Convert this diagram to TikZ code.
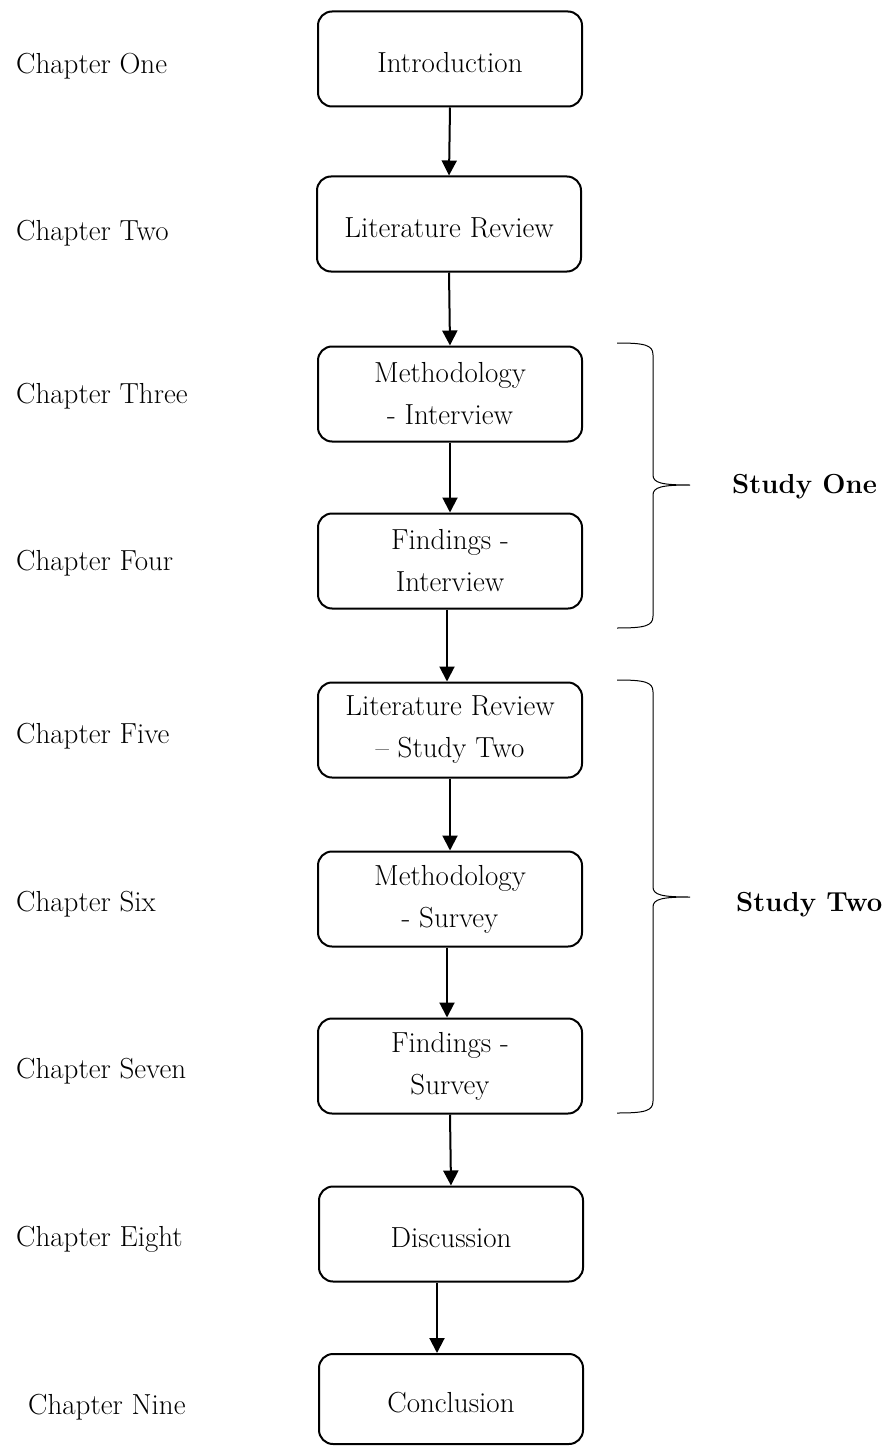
\documentclass[tikz,border=0pt]{standalone}
\usetikzlibrary{arrows.meta}
\begin{document}
\begin{tikzpicture}[x=1pt,y=-1pt,
  box/.style={draw,line width=2pt,rounded corners=14pt,minimum width=264pt,minimum height=95pt,align=center,font=\fontsize{29}{42}\selectfont,inner sep=0pt},
  txt/.style={font=\fontsize{29}{42}\selectfont,align=center,inner sep=0pt},
  chap/.style={anchor=west,font=\fontsize{29}{34}\selectfont,inner sep=0pt},
  arr/.style={line width=2pt,-{Triangle[length=15pt,width=15pt]}},
  brace/.style={line width=1pt},
  study/.style={anchor=west,font=\fontsize{27.5}{32}\selectfont\bfseries,inner sep=0pt}]
\useasboundingbox (0,0) rectangle (892,1447);
\node[box] (b1) at (450,59) {};
\node[txt] (t1) at ([yshift=-4pt]b1.center) {Introduction};
\node[box] (b2) at (449,224) {};
\node[txt] (t2) at ([yshift=-4pt]b2.center) {Literature Review};
\node[box] (b3) at (450,394) {Methodology\\- Interview};
\node[box] (b4) at (450,561) {Findings -\\Interview};
\node[box] (b5) at (450,730) {Literature Review\\-- Study Two};
\node[box] (b6) at (450,899) {Methodology\\- Survey};
\node[box] (b7) at (450,1066) {Findings -\\ Survey};
\node[box] (b8) at (451,1234) {};
\node[txt] (t8) at ([yshift=-4pt]b8.center) {Discussion};
\node[box,minimum height=90pt] (b9) at (451,1399) {};
\node[txt] (t9) at ([yshift=-4pt]b9.center) {Conclusion};

\draw[arr] (b1.south) -- (b2.north);
\draw[arr] (b2.south) -- (b3.north);
\draw[arr] (b3.south) -- (b4.north);
\draw[arr] ([xshift=-3pt]b4.south) -- ([xshift=-3pt]b5.north);
\draw[arr] (b5.south) -- (b6.north);
\draw[arr] ([xshift=-3pt]b6.south) -- ([xshift=-3pt]b7.north);
\draw[arr] (b7.south) -- (b8.north);
\draw[arr] ([xshift=-14pt]b8.south) -- ([xshift=-14pt]b9.north);

\node[chap] (c1) at (16,66) {Chapter One};
\node[chap] (c2) at (16,233) {Chapter Two};
\node[chap] (c3) at (16,396) {Chapter Three};
\node[chap] (c4) at (16,563) {Chapter Four};
\node[chap] (c5) at (16,736) {Chapter Five};
\node[chap] (c6) at (16,904) {Chapter Six};
\node[chap] (c7) at (16,1071) {Chapter Seven};
\node[chap] (c8) at (16,1239) {Chapter Eight};
\node[chap] (c9) at (28,1407) {Chapter Nine};

% brace one
\coordinate (s1t) at (617,343);
\coordinate (s1m) at (690,485);
\coordinate (s1b) at (617,628);
\draw[brace] (s1t) .. controls (645,343) and (653,345) .. (653,355) -- (653,475)
  .. controls (653,483) and (662,485) .. (s1m)
  .. controls (662,485) and (653,487) .. (653,495) -- (653,616)
  .. controls (653,626) and (645,628) .. (s1b);
\node[study] (st1) at (732,487) {Study One};

% brace two
\coordinate (s2t) at (617,680);
\coordinate (s2m) at (690,897);
\coordinate (s2b) at (617,1113);
\draw[brace] (s2t) .. controls (645,680) and (653,682) .. (653,692) -- (653,887)
  .. controls (653,895) and (662,897) .. (s2m)
  .. controls (662,897) and (653,899) .. (653,907) -- (653,1101)
  .. controls (653,1111) and (645,1113) .. (s2b);
\node[study] (st2) at (736,905) {Study Two};
\end{tikzpicture}
\end{document}
